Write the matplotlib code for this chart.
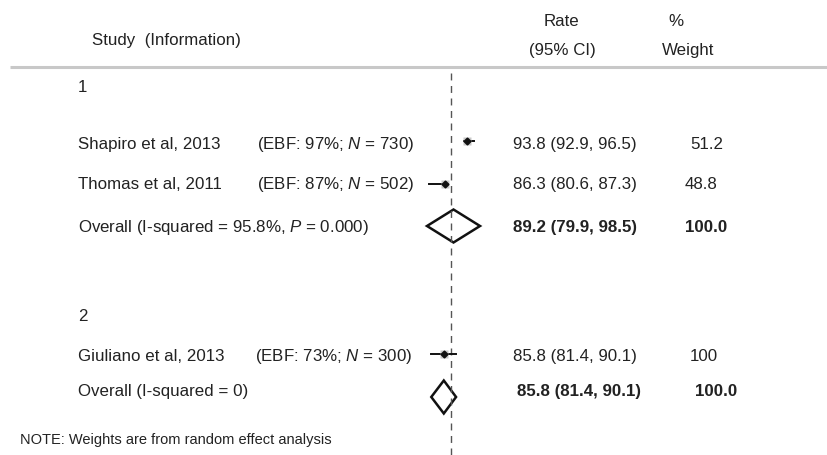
import matplotlib
matplotlib.use("Agg")
import matplotlib.pyplot as plt
from matplotlib.patches import Polygon

plt.rcParams['font.family'] = ['Liberation Sans', 'DejaVu Sans']
plt.rcParams['mathtext.fontset'] = 'custom'
plt.rcParams['mathtext.rm'] = 'Liberation Sans'
plt.rcParams['mathtext.it'] = 'Liberation Sans:italic'
plt.rcParams['mathtext.bf'] = 'Liberation Sans:bold'

# ---- data ----
studies = ["Shapiro et al, 2013", "Thomas et al, 2011", "Giuliano et al, 2013"]
info = ["(EBF: 97%; $\\it{N}$ = 730)", "(EBF: 87%; $\\it{N}$ = 502)", "(EBF: 73%; $\\it{N}$ = 300)"]
rates = [93.8, 86.3, 85.8]
ci_low = [92.9, 80.6, 81.4]
ci_high = [96.5, 87.3, 90.1]
weights = ["51.2", "48.8", "100"]
groups = ["1", "2"]
overall_labels = ["Overall (I-squared = 95.8%, $\\it{P}$ = 0.000)", "Overall (I-squared = 0)"]
overall_rate = [89.2, 85.8]
overall_low = [79.9, 81.4]
overall_high = [98.5, 90.1]
overall_weight = ["100.0", "100.0"]
ref_line = 88.3

# ---- layout (pixels) ----
W, H = 828, 456
fig = plt.figure(figsize=(W / 100, H / 100), dpi=100)
tx = fig.add_axes([0, 0, 1, 1])
tx.set_xlim(0, W)
tx.set_ylim(H, 0)
tx.axis('off')

# forest axes: x in rate units mapped to pixels
px0, v0, scale = 453.5, 89.2, 2.85
fx = fig.add_axes([0, 0, 1, 1])
fx.set_xlim(v0 + (0 - px0) / scale, v0 + (W - px0) / scale)
fx.set_ylim(H, 0)
fx.axis('off')

fs = 12.2
col = '#222222'

# header
tx.text(92, 40, "Study  (Information)", fontsize=fs, color=col, va='center', ha='left')
tx.text(562, 22, "Rate", fontsize=fs, color=col, va='center', ha='center')
tx.text(562, 50, "(95% CI)", fontsize=fs, color=col, va='center', ha='center')
tx.text(676, 22, "%", fontsize=fs, color=col, va='center', ha='center')
tx.text(688, 50, "Weight", fontsize=fs, color=col, va='center', ha='center')
tx.plot([10, W], [68, 68], color='#c8c8c8', lw=2.2, solid_capstyle='butt')

# dashed reference line
fx.plot([ref_line, ref_line], [74, H], color='#555555', lw=1.0, dashes=(5, 4))

study_y = [145, 185, 357]
marker_y = [142, 185, 355]
group_y = [88, 317]
overall_y = [228, 392]
diamond_y = [227, 398]
info_x = [257, 257, 255]
val_x = [513, 513, 513]
w_x = [690, 685, 690]
ov_val_x = [513, 517]
ov_w_x = [685, 695]

for g, gy in zip(groups, group_y):
    tx.text(78, gy, g, fontsize=fs, color=col, va='center', ha='left')

for i in range(len(studies)):
    y = study_y[i]
    tx.text(78, y, studies[i], fontsize=fs, color=col, va='center', ha='left')
    tx.text(info_x[i], y, info[i], fontsize=fs, color=col, va='center', ha='left')
    tx.text(val_x[i], y, f"{rates[i]} ({ci_low[i]}, {ci_high[i]})", fontsize=fs, color=col,
            va='center', ha='left')
    tx.text(w_x[i], y, weights[i], fontsize=fs, color=col, va='center', ha='left')
    my = marker_y[i]
    fx.plot([ci_low[i], ci_high[i]], [my, my], color='#111111', lw=1.4)
    fx.plot([rates[i]], [my], marker='s', ms=6, color='#bbbbbb', mec='none', alpha=0.8)
    fx.plot([rates[i]], [my], marker='D', ms=3.5, color='#111111', mec='#111111')

for j in range(len(overall_labels)):
    y = overall_y[j]
    tx.text(78, y, overall_labels[j], fontsize=fs, color=col, va='center', ha='left')
    tx.text(ov_val_x[j], y, f"{overall_rate[j]} ({overall_low[j]}, {overall_high[j]})",
            fontsize=fs, color=col, va='center', ha='left', fontweight='bold')
    tx.text(ov_w_x[j], y, overall_weight[j], fontsize=fs, color=col, va='center', ha='left',
            fontweight='bold')
    dy = diamond_y[j]
    half = 16.5
    poly = Polygon([[overall_low[j], dy], [overall_rate[j], dy - half],
                    [overall_high[j], dy], [overall_rate[j], dy + half]],
                   closed=True, fill=False, edgecolor='#111111', lw=1.8, joinstyle='miter')
    fx.add_patch(poly)

tx.text(20, 440, "NOTE: Weights are from random effect analysis", fontsize=10.5, color=col,
        va='center', ha='left')

fig.savefig("out.png", dpi=100)
